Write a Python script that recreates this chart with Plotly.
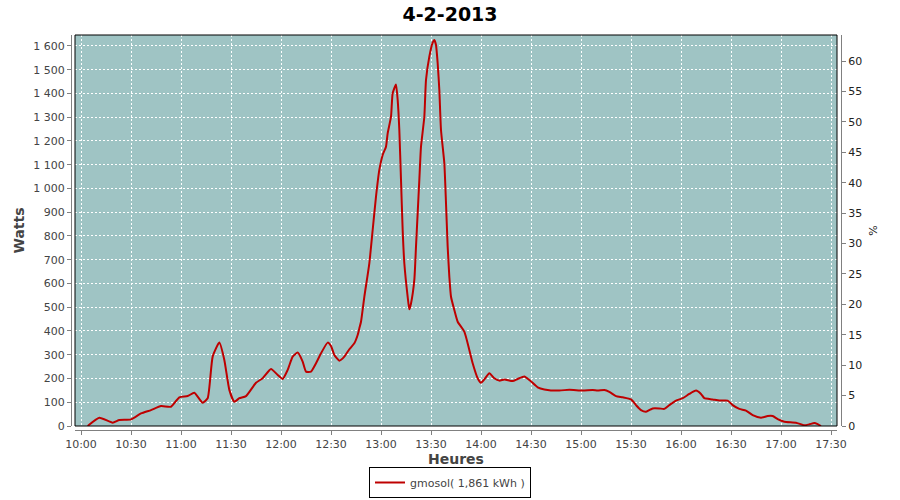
import plotly.graph_objects as go

DAY = "2013-02-04"

times = [
    "10:04", "10:11", "10:19", "10:23", "10:30", "10:36", "10:42", "10:48", "10:54", "10:59",
    "11:04", "11:08", "11:13", "11:16", "11:19", "11:23", "11:26", "11:29", "11:32", "11:35",
    "11:39", "11:45", "11:49", "11:54", "11:58", "12:01", "12:04", "12:07", "12:10", "12:13",
    "12:15", "12:18", "12:21", "12:24", "12:28", "12:30", "12:32", "12:35", "12:38", "12:41",
    "12:44", "12:46", "12:47", "12:48", "12:50", "12:53", "12:55", "12:57", "12:59", "13:01",
    "13:03", "13:04", "13:06", "13:07", "13:09", "13:10", "13:11", "13:12", "13:13", "13:14",
    "13:16", "13:17", "13:18", "13:20", "13:21", "13:22", "13:23", "13:24", "13:26", "13:27",
    "13:29", "13:31", "13:32", "13:33", "13:34", "13:35", "13:36", "13:38", "13:39", "13:40",
    "13:41", "13:42", "13:44", "13:46", "13:50", "13:53", "13:55", "13:58", "14:00", "14:02",
    "14:05", "14:08", "14:11", "14:14", "14:19", "14:22", "14:26", "14:29", "14:34", "14:38",
    "14:47", "14:53", "15:01", "15:07", "15:10", "15:14", "15:17", "15:21", "15:25", "15:30",
    "15:33", "15:36", "15:39", "15:43", "15:47", "15:50", "15:53", "15:57", "16:01", "16:05",
    "16:09", "16:12", "16:14", "16:19", "16:23", "16:28", "16:31", "16:35", "16:39", "16:43",
    "16:48", "16:52", "16:55", "16:58", "17:02", "17:09", "17:14", "17:17", "17:20", "17:22",
    "17:24",
]

watts = [
    0, 35, 14, 25, 28, 53, 67, 84, 81, 121,
    126, 140, 98, 117, 292, 351, 278, 152, 102, 117,
    126, 182, 201, 240, 215, 198, 236, 292, 309, 271,
    229, 229, 264, 306, 351, 337, 299, 275, 292, 323,
    348, 383, 411, 439, 544, 685, 825, 966, 1078, 1141,
    1176, 1232, 1302, 1401, 1438, 1373, 1246, 1036, 825, 685,
    544, 491, 516, 615, 755, 896, 1036, 1176, 1302, 1457,
    1555, 1614, 1625, 1604, 1527, 1415, 1246, 1106, 938, 755,
    629, 544, 488, 439, 397, 320, 264, 201, 182, 196,
    222, 201, 191, 196, 189, 198, 208, 194, 163, 154,
    149, 153, 149, 152, 149, 152, 144, 126, 121, 112,
    88, 67, 60, 74, 74, 72, 88, 107, 117, 135,
    149, 135, 117, 112, 107, 107, 88, 72, 65, 46,
    35, 42, 42, 29, 18, 14, 3, 7, 13, 8,
    0,
]

series_name = "gmosol( 1,861 kWh )"
title_text = "4-2-2013"
y_title = "Watts"
y2_title = "%"
x_title = "Heures"

x_vals = [f"{DAY} {t}" for t in times]

W, H = 900, 500
ml, mr, mt, mb = 71, 59, 35, 70
pw = W - ml - mr
ph = H - mt - mb
off = 4

fig = go.Figure()
fig.add_trace(go.Scatter(
    x=x_vals, y=watts, mode="lines", name=series_name,
    line=dict(color="#BE0000", width=2, shape="spline", smoothing=0.5),
    yaxis="y",
))
fig.add_trace(go.Scatter(
    x=x_vals[:1], y=[None], mode="lines", showlegend=False,
    yaxis="y2", hoverinfo="skip",
))

tick_font = dict(family="DejaVu Sans", size=11, color="#444444")
title_font = dict(family="DejaVu Sans", size=14, color="#444444")

fig.update_layout(
    width=W, height=H,
    margin=dict(l=ml, r=mr, t=mt, b=mb, pad=0, autoexpand=False),
    paper_bgcolor="white",
    plot_bgcolor="#9FC4C4",
    separators=", ",
    title=dict(text=f"<b>{title_text}</b>", x=0.5, xanchor="center",
               xref="container", yref="container", y=1 - 14 / H, yanchor="middle",
               font=dict(family="DejaVu Sans", size=19, color="black")),
    showlegend=True,
    legend=dict(orientation="h", x=0.5, xanchor="center", xref="container",
                yref="container", y=2 / H, yanchor="bottom",
                bordercolor="black", borderwidth=1, bgcolor="white",
                font=dict(family="DejaVu Sans", size=11, color="#444444"),
                itemwidth=30, tracegroupgap=0),
    xaxis=dict(
        domain=[off / pw, 1 - off / pw],
        anchor="free", position=0, automargin=False,
        type="date",
        range=[f"{DAY} 09:56:24", f"{DAY} 17:33:36"],
        dtick=30 * 60 * 1000, tick0=f"{DAY} 10:00",
        tickformat="%H:%M",
        showline=True, linecolor="#808080", linewidth=1,
        ticks="outside", ticklen=4, tickcolor="#808080",
        tickfont=tick_font,
        showgrid=True, gridcolor="white", griddash="2px,2px", gridwidth=1,
        zeroline=False,
        title=dict(text=f"<b>{x_title}</b>", font=title_font, standoff=5),
    ),
    yaxis=dict(
        domain=[off / ph, 1],
        anchor="free", position=0, automargin=False,
        range=[0, 1646],
        tickvals=list(range(0, 1700, 100)),
        separatethousands=True,
        showline=True, linecolor="#808080", linewidth=1,
        ticks="outside", ticklen=4, tickcolor="#808080",
        tickfont=tick_font,
        showgrid=True, gridcolor="white", griddash="2px,2px", gridwidth=1,
        zeroline=False,
        title=dict(text=f"<b>{y_title}</b>", font=title_font, standoff=4),
    ),
    yaxis2=dict(
        overlaying="y", side="right",
        anchor="free", position=1, automargin=False,
        range=[0, 64.3],
        dtick=5,
        showline=True, linecolor="#808080", linewidth=1,
        ticks="outside", ticklen=4, tickcolor="#808080",
        tickfont=dict(family="DejaVu Sans", size=11, color="#222222"),
        showgrid=False, zeroline=False,
        title=dict(text=y2_title, font=dict(family="DejaVu Sans", size=11, color="#222222"), standoff=8),
    ),
    shapes=[dict(type="rect", xref="paper", yref="paper",
                 x0=off / pw, x1=1 - off / pw, y0=off / ph, y1=1,
                 line=dict(color="black", width=1), layer="above")],
)

fig.write_html("out.html", config={"displayModeBar": False},
               post_script="document.body.style.margin='0';document.body.style.overflow='hidden';")
